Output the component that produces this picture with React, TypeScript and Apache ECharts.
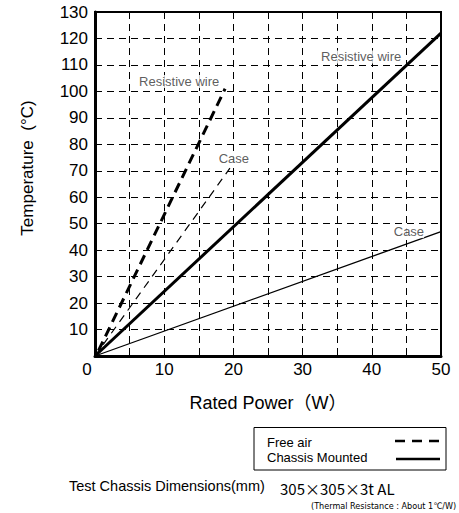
import React, { useEffect, useRef } from "react";
import * as echarts from "echarts";

const xTicks = [0, 10, 20, 30, 40, 50];
const yMax = 130;
const freeAirWire: [number, number][] = [[0.5, 2], [18.8, 101]];
const freeAirCase: [number, number][] = [[0, 0], [19.5, 71]];
const chassisWire: [number, number][] = [[0, 0], [50, 122]];
const chassisCase: [number, number][] = [[0, 0], [50, 47]];
const lineLabels: { name: string; value: [number, number] }[] = [
  { name: "Resistive wire", value: [6.3, 103.7] },
  { name: "Case", value: [17.8, 74.8] },
  { name: "Resistive wire", value: [32.6, 113] },
  { name: "Case", value: [43.1, 47] },
];

const FONT = "'Liberation Sans', Arial, 'Noto Sans CJK JP', sans-serif";

export default function App() {
  const ref = useRef<HTMLDivElement>(null);
  useEffect(() => {
    if (!ref.current) return;
    const chart = echarts.init(ref.current, undefined, { renderer: "svg" });
    const gridLine = { show: true, lineStyle: { color: "#000", width: 1, type: [7, 5] as any } };
    chart.setOption({
      animation: false,
      backgroundColor: "#fff",
      textStyle: { fontFamily: FONT },
      grid: { left: 95, right: 18, top: 12, bottom: 157, show: true, borderColor: "#000", borderWidth: 2 },
      xAxis: {
        type: "value",
        min: xTicks[0],
        max: xTicks[xTicks.length - 1],
        interval: 5,
        name: "Rated Power（W）",
        nameLocation: "middle",
        nameGap: 38,
        nameTextStyle: { fontSize: 18, color: "#000", fontFamily: FONT },
        axisLine: { show: true, lineStyle: { color: "#000", width: 3 } },
        axisTick: { show: false },
        splitLine: gridLine,
        axisLabel: {
          fontSize: 17,
          color: "#000",
          margin: 5,
          fontFamily: FONT,
          formatter: (v: number) => (v !== 0 && xTicks.includes(v) ? String(v) : ""),
        },
      },
      yAxis: {
        type: "value",
        min: 0,
        max: yMax,
        interval: 10,
        axisLine: { show: true, lineStyle: { color: "#000", width: 3 } },
        axisTick: { show: false },
        splitLine: gridLine,
        axisLabel: {
          fontSize: 17,
          color: "#000",
          margin: 7,
          fontFamily: FONT,
          formatter: (v: number) => (v === 0 ? "" : String(v)),
        },
      },
      series: [
        { type: "line", data: freeAirWire, symbol: "none", lineStyle: { color: "#000", width: 3, type: [10, 6] } },
        { type: "line", data: freeAirCase, symbol: "none", lineStyle: { color: "#000", width: 1.2, type: [8, 6] } },
        { type: "line", data: chassisWire, symbol: "none", lineStyle: { color: "#000", width: 3 } },
        { type: "line", data: chassisCase, symbol: "none", lineStyle: { color: "#000", width: 1.3 } },
        {
          type: "scatter",
          data: lineLabels,
          symbolSize: 1,
          itemStyle: { color: "rgba(0,0,0,0)" },
          z: 5,
          label: {
            show: true,
            position: "right",
            distance: 0,
            formatter: (p: any) => p.name,
            fontSize: 13,
            color: "#333",
            fontFamily: FONT,
            backgroundColor: "#fff",
          },
        },
      ],
      graphic: [
        { type: "text", x: 87, y: 369, style: { text: "0", font: `17px ${FONT}`, fill: "#000", align: "center", verticalAlign: "middle" } },
        { type: "text", x: 27, y: 168, rotation: Math.PI / 2, style: { text: "Temperature  (°C)", font: `17px ${FONT}`, fill: "#000", align: "center", verticalAlign: "middle" } },
        { type: "rect", shape: { x: 254, y: 427.5, width: 192, height: 42.5 }, style: { fill: "#fff", stroke: "#000", lineWidth: 1 } },
        { type: "text", x: 267, y: 442, style: { text: "Free air", font: `13px ${FONT}`, fill: "#000", verticalAlign: "middle" } },
        { type: "text", x: 267, y: 457, style: { text: "Chassis Mounted", font: `13px ${FONT}`, fill: "#000", verticalAlign: "middle" } },
        { type: "line", shape: { x1: 395, y1: 441, x2: 440, y2: 441 }, style: { stroke: "#000", lineWidth: 2.5, lineDash: [10, 7] } },
        { type: "line", shape: { x1: 396, y1: 459, x2: 440, y2: 459 }, style: { stroke: "#000", lineWidth: 2.5 } },
        { type: "text", x: 69, y: 486, style: { text: "Test Chassis Dimensions(mm)", font: `14.5px ${FONT}`, fill: "#000", verticalAlign: "middle" } },
        { type: "text", x: 280, y: 488, style: { text: "305×305×3t AL", font: `15px 'Noto Sans CJK JP', sans-serif`, fill: "#000", verticalAlign: "middle" } },
        { type: "text", x: 311, y: 506, style: { text: "(Thermal Resistance : About 1℃/W)", font: `9px 'DejaVu Sans Condensed', 'DejaVu Sans', 'Noto Sans CJK JP'`, fill: "#000", verticalAlign: "middle" } },
      ],
    });
    return () => chart.dispose();
  }, []);
  return <div ref={ref} style={{ position: "absolute", left: 0, top: 0, width: 459, height: 513 }} />;
}
